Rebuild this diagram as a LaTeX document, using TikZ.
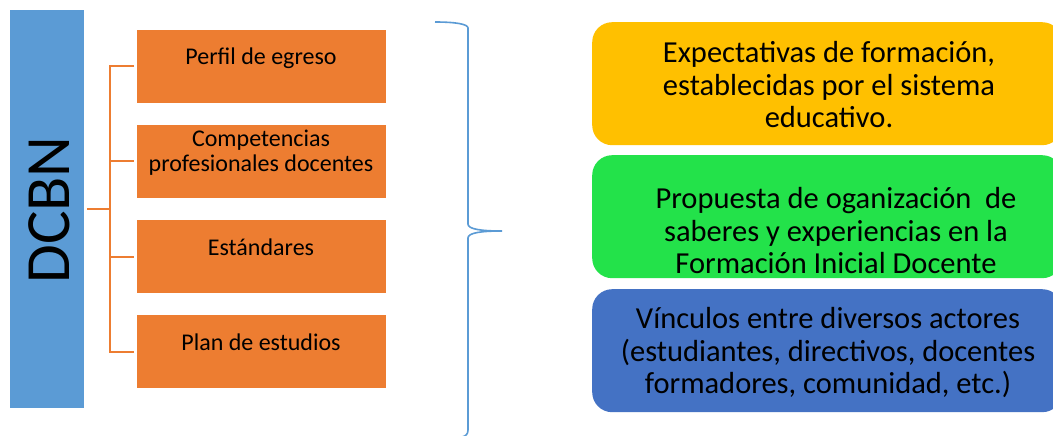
\documentclass[tikz,border=0pt]{standalone}
\usepackage{fontspec}
\setmainfont{Carlito}
\definecolor{barblue}{HTML}{5B9BD5}
\definecolor{orng}{HTML}{ED7D31}
\definecolor{yel}{HTML}{FFC000}
\definecolor{grn}{HTML}{23E24A}
\definecolor{dblue}{HTML}{4472C4}
\begin{document}
\begin{tikzpicture}[x=1pt,y=-1pt,
  obox/.style={fill=orng,draw=none,minimum width=249pt,minimum height=73pt,anchor=north west,inner sep=0pt},
  otext/.style={font=\fontsize{24}{25}\selectfont,align=center,inner sep=0pt},
  rbox/.style={draw=none,rounded corners=20pt,minimum width=470pt,minimum height=123pt,anchor=north west,inner sep=0pt},
  rtext/.style={font=\fontsize{30.5}{32.5}\selectfont,align=center,inner sep=0pt},
  oline/.style={draw=orng,line width=2pt},
  brace/.style={draw=barblue,line width=1.6pt}]
\clip (0,0) rectangle (1053,436);
\fill[white] (0,0) rectangle (1053,436);
% left bar
\node[fill=barblue,minimum width=74pt,minimum height=398pt,anchor=north west,inner sep=0pt] (bar) at (10,10) {};
\node[rotate=90,font=\fontsize{63}{63}\selectfont] (dcbn) at (49,210) {DCBN};
% orange boxes
\node[obox] (b1) at (137,30) {};
\node[obox] (b2) at (137,125) {};
\node[obox] (b3) at (137,220) {};
\node[obox] (b4) at (137,315) {};
\node[otext] (t1) at (261,58) {Perfil de egreso};
\node[otext] (t2) at (261,153) {Competencias\\profesionales docentes};
\node[otext] (t3) at (261,247) {Estándares};
\node[otext] (t4) at (261,342) {Plan de estudios};
% connectors
\coordinate (j) at (110,209);
\draw[oline] (87,209) -- (j);
\draw[oline] (134,66) -| (110,352) -- (134,352);
\draw[oline] (110,161) -- (134,161);
\draw[oline] (110,257) -- (134,257);
% brace
\draw[brace] (435,22) .. controls (455,22) and (468,24) .. (468,28)
  -- (468,224) .. controls (468,229) and (480,231) .. (502,231)
  .. controls (480,231) and (468,233) .. (468,238)
  -- (468,430) .. controls (468,434) and (466,436) .. (462,437);
% right boxes
\node[rbox,fill=yel] (r1) at (592,22) {};
\node[rbox,fill=grn] (r2) at (592,155) {};
\node[rbox,fill=dblue] (r3) at (592,289) {};
\node[rtext] (s1) at (829,85) {Expectativas de formación,\\establecidas por el sistema\\educativo.};
\node[rtext] (s2) at (836,231) {Propuesta de oganización\ \ de\\saberes y experiencias en la\\Formación Inicial Docente};
\node[rtext] (s3) at (828,353) {Vínculos entre diversos actores\\(estudiantes, directivos, docentes\\formadores, comunidad, etc.)};
\end{tikzpicture}
\end{document}
